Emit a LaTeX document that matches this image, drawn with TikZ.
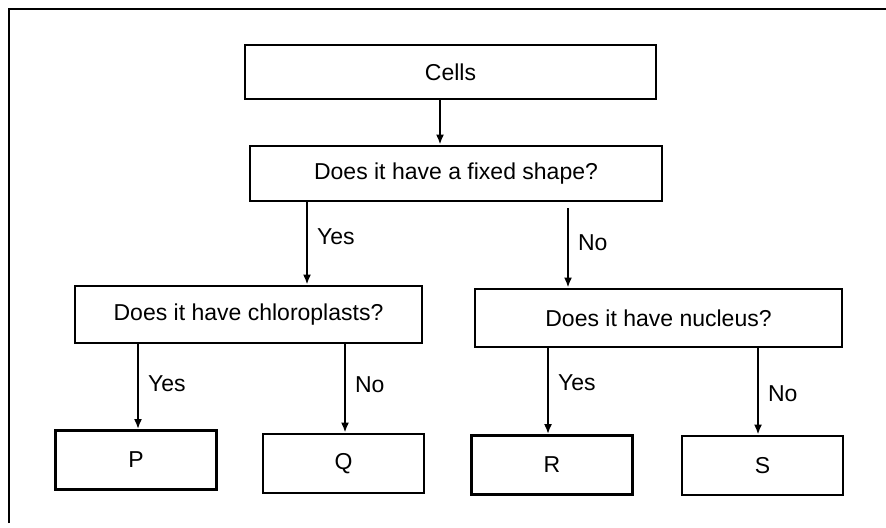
\documentclass[tikz,border=0pt]{standalone}
\usepackage{fontspec}
\setmainfont{Liberation Sans}
\usetikzlibrary{arrows.meta,positioning,calc}

\begin{document}
\begin{tikzpicture}[
    x=0.5pt, y=-0.5pt,
    qbox/.style={rectangle, draw, line width=1.4pt, inner sep=0pt,
      font=\fontsize{11.5}{13.8}\selectfont, align=center},
    leaf/.style={qbox, minimum width=80.5pt, minimum height=29.5pt},
    arr/.style={line width=1.1pt, -{Latex[length=5pt,width=4pt]}},
    lbl/.style={right=3.5pt, inner sep=1pt, font=\fontsize{11.5}{13.8}\selectfont},
    frame/.style={line width=1.1pt}
  ]
    \useasboundingbox (0,0) rectangle (886,527);

    % Outer frame (top and left only)
    \draw[frame] (9,523) -- (9,9) -- (886,9);

    % Root and first question
    \node[qbox, minimum width=205.5pt, minimum height=27pt] (cells) at (450.5,72)  {Cells};
    \node[qbox, minimum width=206pt, minimum height=27.5pt] (shape) at (456,173.5) {Does it have a fixed shape?};

    % Second level questions
    \node[qbox, minimum width=173.5pt, minimum height=28.5pt] (chloro)  at (248.5,314.5) {Does it have chloroplasts?};
    \node[qbox, minimum width=183.5pt, minimum height=29pt]   (nucleus) at (658.5,318)   {Does it have nucleus?};

    % Leaves
    \node[leaf] (p) at (136,460)   {P};
    \node[leaf] (q) at (343.5,463.5) {Q};
    \node[leaf] (r) at (552,465)   {R};
    \node[leaf] (s) at (762.5,465.5) {S};

    % Arrow columns
    \coordinate (c0) at (440,0);
    \coordinate (c1) at (307,0);
    \coordinate (c2) at (568,0);
    \coordinate (c3) at (138,0);
    \coordinate (c4) at (345,0);
    \coordinate (c5) at (548,0);
    \coordinate (c6) at (758,0);

    % Connectors
    \draw[arr] (c0 |- cells.south) -- (c0 |- shape.north);
    \draw[arr] (c1 |- shape.south) -- node[lbl, pos=0.42] {Yes} (c1 |- chloro.north);
    \draw[arr, shorten <=3pt] (c2 |- shape.south) -- node[lbl, pos=0.47] {No} (c2 |- nucleus.north);
    \draw[arr] (c3 |- chloro.south) -- node[lbl, pos=0.46] {Yes} (c3 |- p.north);
    \draw[arr] (c4 |- chloro.south) -- node[lbl, pos=0.46] {No} (c4 |- q.north);
    \draw[arr] (c5 |- nucleus.south) -- node[lbl, pos=0.4] {Yes} (c5 |- r.north);
    \draw[arr] (c6 |- nucleus.south) -- node[lbl, pos=0.52] {No} (c6 |- s.north);
  \end{tikzpicture}
\end{document}
